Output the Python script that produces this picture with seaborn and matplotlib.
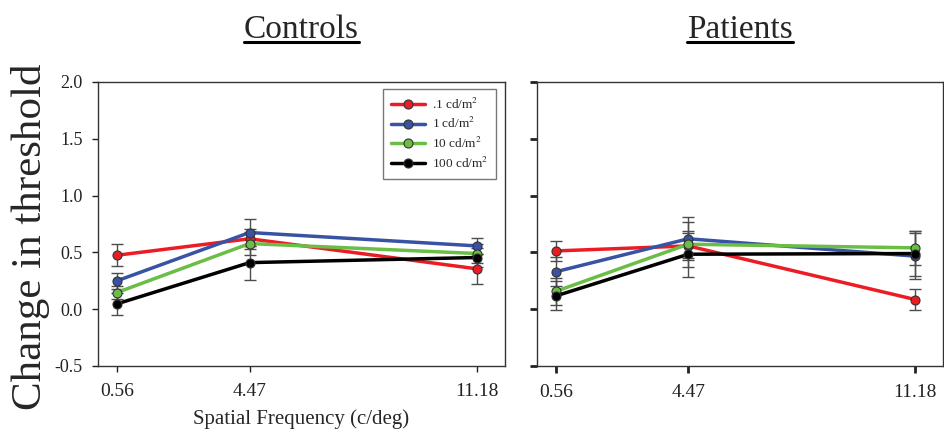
import matplotlib
matplotlib.use("Agg")
import matplotlib.pyplot as plt
import pandas as pd
import seaborn as sns
from matplotlib.lines import Line2D

# Wartości (zmiana progu dla trzech częstotliwości przestrzennych)
freqs = [0.56, 4.47, 11.18]
levels = [".1 cd/m$^2$", "1 cd/m$^2$", "10 cd/m$^2$", "100 cd/m$^2$"]
colors = ["#ec1c24", "#3953a4", "#6abd45", "#000000"]
panels = ["Controls", "Patients"]

controls_01 = [0.475, 0.62, 0.355]
controls_1 = [0.25, 0.675, 0.557]
controls_10 = [0.147, 0.578, 0.49]
controls_100 = [0.047, 0.41, 0.455]
controls_err_01 = [0.095, 0.09, 0.13]
controls_err_1 = [0.07, 0.12, 0.07]
controls_err_10 = [0.06, 0.10, 0.08]
controls_err_100 = [0.094, 0.15, 0.08]

patients_01 = [0.513, 0.557, 0.085]
patients_1 = [0.33, 0.62, 0.467]
patients_10 = [0.158, 0.572, 0.54]
patients_100 = [0.117, 0.484, 0.49]
patients_err_01 = [0.085, 0.11, 0.095]
patients_err_1 = [0.13, 0.19, 0.2]
patients_err_10 = [0.12, 0.2, 0.15]
patients_err_100 = [0.127, 0.2, 0.2]

values = {
    "Controls": [controls_01, controls_1, controls_10, controls_100],
    "Patients": [patients_01, patients_1, patients_10, patients_100],
}
errors = {
    "Controls": [controls_err_01, controls_err_1, controls_err_10, controls_err_100],
    "Patients": [patients_err_01, patients_err_1, patients_err_10, patients_err_100],
}

rows = []
for panel in panels:
    for lvl, vals, errs in zip(levels, values[panel], errors[panel]):
        for f, v, e in zip(freqs, vals, errs):
            rows.append({"group": panel, "level": lvl, "freq": f, "value": v, "err": e})
df = pd.DataFrame(rows)

sns.set_style("ticks")
plt.rcParams["font.family"] = ["Liberation Serif", "DejaVu Serif"]
plt.rcParams["mathtext.fontset"] = "stix"

W, H = 945, 443
fig = plt.figure(figsize=(W / 100, H / 100), dpi=100)
ax_l = fig.add_axes([98 / W, 1 - 366 / H, 407 / W, 284 / H])
ax_r = fig.add_axes([537 / W, 1 - 366 / H, 406 / W, 284 / H])
palette = dict(zip(levels, colors))

for ax, panel in zip([ax_l, ax_r], panels):
    sub = df[df["group"] == panel]
    for lvl in levels:
        s = sub[sub["level"] == lvl]
        ax.errorbar(s["freq"], s["value"], yerr=s["err"], fmt="none",
                    ecolor="#4d4d4d", elinewidth=1.0, capsize=4, capthick=1.0, zorder=1)
    sns.lineplot(data=sub, x="freq", y="value", hue="level", hue_order=levels,
                 palette=palette, marker="o", markersize=6.5, markeredgecolor="#333333",
                 markeredgewidth=0.8, linewidth=2.5, errorbar=None, legend=False,
                 ax=ax, zorder=3)
    ax.set_xlim(0, 12)
    ax.set_ylim(-0.5, 2.0)
    ax.set_xticks(freqs)
    ax.set_xticklabels(["0.56", "4.47", "11.18"])
    ax.set_yticks([-0.5, 0.0, 0.5, 1.0, 1.5, 2.0])
    for sp in ax.spines.values():
        sp.set_visible(True)
        sp.set_color("#333333")
        sp.set_linewidth(1.0)
    ax.tick_params(axis="both", direction="out", length=4, width=1.0,
                   colors="#222222", labelsize=14, pad=8)
    ax.tick_params(axis="y", labelsize=13, pad=7)
    ax.set_title(panel, fontsize=24, pad=32)
    ax.set_ylabel("")

ax_l.set_yticklabels(["-0.5", "0.0", "0.5", "1.0", "1.5", "2.0"])
ax_l.set_xlabel("Spatial Frequency (c/deg)", fontsize=15, labelpad=7)
ax_r.set_xlabel("")
ax_r.tick_params(axis="both", width=2.0, length=5)
ax_r.tick_params(axis="y", labelleft=False)

handles = [Line2D([0], [0], color=c, lw=2.5, marker="o", markersize=6.5,
                  markeredgecolor="#333333", markeredgewidth=0.8) for c in colors]
leg = ax_l.legend(handles, levels, loc="upper right", bbox_to_anchor=(0.985, 0.986),
                  fontsize=9.5, frameon=True, fancybox=False, edgecolor="#777777",
                  framealpha=1, handlelength=2.6, handletextpad=0.5,
                  labelspacing=0.35, borderpad=0.6, borderaxespad=0.2)
leg.get_frame().set_linewidth(1.0)

fig.text(31 / W, 1 - 237 / H, "Change in threshold", rotation=90,
         fontsize=31, ha="center", va="center")

# podkreślenie tytułów
fig.canvas.draw()
renderer = fig.canvas.get_renderer()
for ax in [ax_l, ax_r]:
    bb = ax.title.get_window_extent(renderer)
    y = bb.y0 + 3
    fig.add_artist(Line2D([bb.x0 / W, bb.x1 / W], [y / H, y / H],
                          transform=fig.transFigure, color="black", lw=2.2))

fig.savefig("out.png", dpi=100)
